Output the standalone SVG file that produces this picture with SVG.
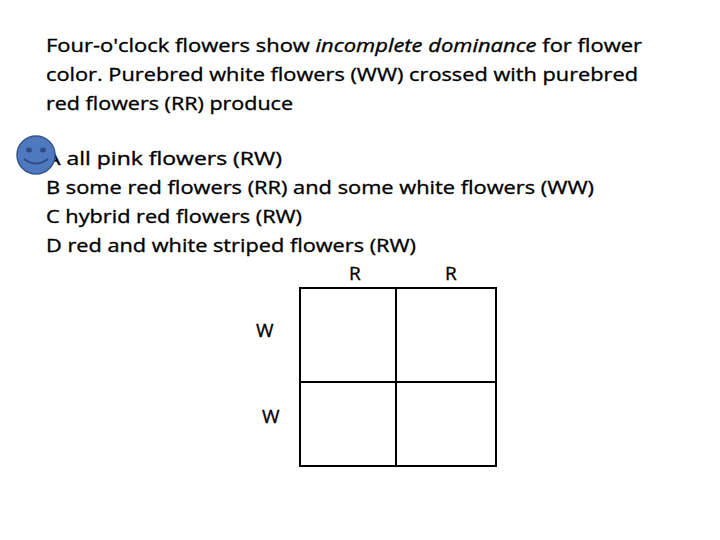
<svg xmlns="http://www.w3.org/2000/svg" width="720" height="540" viewBox="0 0 720 540">
<style>text{font-family:"Open Sans","Liberation Sans",sans-serif;font-size:19px;fill:#000;stroke:#000;stroke-width:0.35}.c{fill:none;stroke:#000;stroke-width:2}</style>
<rect width="720" height="540" fill="#fff"/>
<g id="question">
<text x="46" y="52" textLength="596" lengthAdjust="spacingAndGlyphs">Four-o'clock flowers show <tspan font-style="italic">incomplete dominance</tspan> for flower</text>
<text x="46" y="81" textLength="592" lengthAdjust="spacingAndGlyphs">color. Purebred white flowers (WW) crossed with purebred</text>
<text x="46" y="110" textLength="247" lengthAdjust="spacingAndGlyphs">red flowers (RR) produce</text>
<text x="46" y="165" textLength="236" lengthAdjust="spacingAndGlyphs">A all pink flowers (RW)</text>
<text x="46" y="194" textLength="548" lengthAdjust="spacingAndGlyphs">B some red flowers (RR) and some white flowers (WW)</text>
<text x="46" y="223" textLength="256" lengthAdjust="spacingAndGlyphs">C hybrid red flowers (RW)</text>
<text x="46" y="252" textLength="370" lengthAdjust="spacingAndGlyphs">D red and white striped flowers (RW)</text>
</g>
<g id="smiley">
<circle cx="36" cy="155" r="19" fill="#4f79bf" stroke="#34558f" stroke-width="1.5"/>
<ellipse cx="29" cy="150" rx="3" ry="2.5" fill="#2f4d82"/>
<ellipse cx="43" cy="150" rx="3" ry="2.5" fill="#2f4d82"/>
<path d="M24 159 Q36 168 48 159" fill="none" stroke="#2f4d82" stroke-width="2"/>
</g>
<g id="punnett">
<text x="349" y="280">R</text>
<text x="445" y="280">R</text>
<text x="256" y="337">W</text>
<text x="262" y="423">W</text>
<rect class="c" x="300" y="288" width="196" height="178"/>
<line class="c" x1="396" y1="288" x2="396" y2="466"/>
<line class="c" x1="300" y1="382" x2="496" y2="382"/>
</g>
</svg>
